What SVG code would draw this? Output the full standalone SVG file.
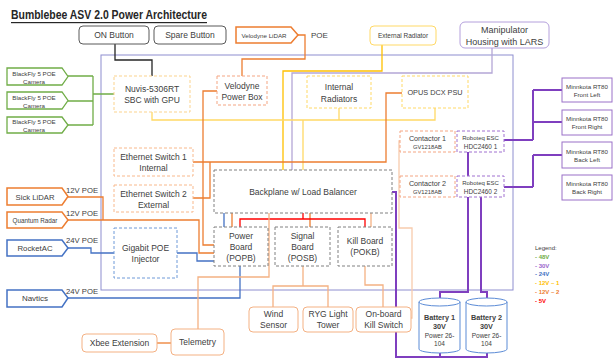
<svg xmlns="http://www.w3.org/2000/svg" width="614" height="360" viewBox="0 0 614 360">
<style>
text{font-family:"Liberation Sans",Arial,sans-serif;fill:#404040;text-anchor:middle;dominant-baseline:central}
.t{font-size:8.5px}
.s{font-size:6.2px}
.box{fill:#fff;stroke-width:1}
.dash{fill:#fff;stroke-width:1;stroke-dasharray:3 2}
.c{fill:none;stroke-width:1.3}
.p30{fill:none;stroke:#7f3fbf;stroke-width:2}
.lg{font-size:6px;font-weight:bold;text-anchor:start}
</style>
<rect width="614" height="360" fill="#fff"/>
<text x="11" y="15" textLength="196" lengthAdjust="spacingAndGlyphs" style="font-size:12px;font-weight:bold;text-anchor:start;text-decoration:underline;fill:#262626">Bumblebee ASV 2.0 Power Architecture</text>

<rect id="mainbox" x="101" y="55" width="412" height="235" fill="none" stroke="#8e8ecf" stroke-width="1"/>

<g id="connectors">
<path class="c" stroke="#262626" stroke-width="1.6" d="M115,44 V60 H152 V76"/>
<path class="c" stroke="#ed7d31" d="M298,35 H305 V59 H242 V76"/>
<path class="c" stroke="#ffc000" stroke-width="2" d="M382,45 V71 H283 V170"/>
<path class="c" stroke="#b4a7d6" d="M492,48 V73 H292 V170"/>
<path class="c" stroke="#ffd966" d="M152,112 V120 H435 V108 M339,108 V120 M303,120 V170"/>
<path class="c" stroke="#ed7d31" d="M402,93 H386 V162 H193 M193,198 H210 V162"/>
<path class="c" stroke="#ed7d31" d="M217,91 H203 V245 H214"/>
<path class="c" stroke="#ed7d31" stroke-width="1.5" d="M68,197 H103 V220 M68,220 H199 V253 H214"/>
<path class="c" stroke="#70ad47" d="M68,76 H93 M68,101 H93 M68,125 H93 M93,76 V125 M93,94 H114"/>
<path class="c" stroke="#4472c4" stroke-width="1.5" d="M68,248 H91 V253 H114 M177,253 H197 V261 H214 M68,298 H240 V266 M224,213 V227"/>
<path class="c" stroke="#ed7d31" d="M232,213 V227 M310,213 V227"/>
<path class="c" stroke="#f4b183" d="M371,213 V227"/>
<path class="c" stroke="#ff0000" stroke-width="1.5" d="M240,227 V219 H365 V227 M303,213 V219"/>
<path class="c" stroke="#f4b183" d="M269,213 V277 H198 V329 M303,266 V286 M273,307 V286 H328 V307 M365,266 V285 H383 V307"/>
<path class="c" stroke="#ed7d31" stroke-width="1.6" d="M157,343 H171"/>
<path class="c" stroke="#f8cbad" stroke-width="1.5" d="M400,141 H399 V228 H412 V318 H411"/>
<path class="p30" d="M392,192 H396 V357 H487 V353 M440,353 V357 M468,197 V292 H440 V298 M481,197 V292 H487 V298 M468,152 V176 M504,140 H533 M533,90 V140 M533,90 H562 M533,122 H562 M504,187 H533 M533,155 V187 M533,155 H562"/>
</g>

<g id="on-button"><rect class="box" x="79" y="26" width="70" height="18" rx="4" stroke="#595959"/><text class="t" x="114" y="35">ON Button</text></g>
<g id="spare-button"><rect class="box" x="154" y="26" width="72" height="18" rx="4" stroke="#595959"/><text class="t" x="190" y="35">Spare Button</text></g>
<g id="velodyne-lidar"><path d="M236,27 H291 L298,35 L291,43 H236 Z" fill="#fff" stroke="#ed7d31" stroke-width="1.5"/><text class="s" x="264" y="35">Velodyne LiDAR</text></g>
<text x="311" y="35" style="font-size:8px;text-anchor:start">POE</text>
<g id="external-radiator"><rect class="box" x="370" y="26" width="66" height="19" rx="4" stroke="#ffd966" stroke-width="1.3"/><text x="403" y="35.5" style="font-size:6.5px">External Radiator</text></g>
<g id="manipulator"><rect class="box" x="460" y="22" width="89" height="26" rx="5" stroke="#b4a0dc" stroke-width="1.3"/><text class="t" x="504.5" y="29.5" style="font-size:9px">Manipulator</text><text class="t" x="504.5" y="41.5" style="font-size:9px">Housing with LARS</text></g>

<g id="cam1"><path d="M7,68 H62 L68,76.5 L62,85 H7 Z" fill="#fff" stroke="#70ad47" stroke-width="1.3"/><text class="s" x="34" y="73">BlackFly 5 POE</text><text class="s" x="34" y="81">Camera</text></g>
<g id="cam2"><path d="M7,92 H62 L68,100.5 L62,109 H7 Z" fill="#fff" stroke="#70ad47" stroke-width="1.3"/><text class="s" x="34" y="97">BlackFly 5 POE</text><text class="s" x="34" y="105">Camera</text></g>
<g id="cam3"><path d="M7,117 H62 L68,125 L62,133 H7 Z" fill="#fff" stroke="#70ad47" stroke-width="1.3"/><text class="s" x="34" y="121.5">BlackFly 5 POE</text><text class="s" x="34" y="129.5">Camera</text></g>

<g id="sick-lidar"><path d="M7,188 H62 L68,196.5 L62,205 H7 Z" fill="#fff" stroke="#ed7d31" stroke-width="1.5"/><text x="35" y="197" style="font-size:7.7px">Sick LiDAR</text></g>
<text x="66" y="190" style="font-size:7.7px;text-anchor:start">12V POE</text>
<g id="quantum-radar"><path d="M7,212 H62 L68,220 L62,228 H7 Z" fill="#fff" stroke="#ed7d31" stroke-width="1.5"/><text x="35" y="220.5" style="font-size:6.3px">Quantum Radar</text></g>
<text x="66" y="213" style="font-size:7.7px;text-anchor:start">12V POE</text>
<g id="rocketac"><path d="M7,240 H62 L68,248 L62,256 H7 Z" fill="#fff" stroke="#4472c4" stroke-width="1.5"/><text x="35" y="248.5" style="font-size:7.8px">RocketAC</text></g>
<text x="66" y="240" style="font-size:7.7px;text-anchor:start">24V POE</text>
<g id="navtics"><path d="M7,290 H62 L68,298 L62,307 H7 Z" fill="#fff" stroke="#4472c4" stroke-width="1.5"/><text x="35" y="298.5" style="font-size:8px">Navtics</text></g>
<text x="66" y="291" style="font-size:7.7px;text-anchor:start">24V POE</text>

<g id="nuvis"><rect class="dash" x="114" y="76" width="76" height="36" stroke="#fbd38d"/><text class="t" x="152" y="89">Nuvis-5306RT</text><text class="t" x="152" y="100">SBC with GPU</text></g>
<g id="velodyne-power-box"><rect class="dash" x="217" y="76" width="50" height="29" stroke="#f4a582"/><text class="t" x="242" y="86">Velodyne</text><text class="t" x="242" y="97">Power Box</text></g>
<g id="internal-radiators"><rect class="dash" x="307" y="76" width="64" height="32" stroke="#ffd966"/><text class="t" x="339" y="87">Internal</text><text class="t" x="339" y="98.5">Radiators</text></g>
<g id="opus"><rect class="dash" x="402" y="76" width="66" height="32" stroke="#ffd966"/><text x="435" y="92" style="font-size:7.3px">OPUS DCX PSU</text></g>
<g id="eth1"><rect class="dash" x="114" y="148" width="79" height="28" stroke="#f8b88b"/><text class="t" x="153.5" y="156.5">Ethernet Switch 1</text><text class="t" x="153.5" y="167.5">Internal</text></g>
<g id="eth2"><rect class="dash" x="114" y="185" width="79" height="27" stroke="#f8b88b"/><text class="t" x="153.5" y="193.5">Ethernet Switch 2</text><text class="t" x="153.5" y="204.5">External</text></g>
<g id="backplane"><rect class="dash" x="214" y="170" width="178" height="43" stroke="#808080"/><text class="t" x="303" y="192">Backplane w/ Load Balancer</text></g>
<g id="power-board"><rect class="dash" x="214" y="227" width="54" height="39" stroke="#808080"/><text class="t" x="241" y="236">Power</text><text class="t" x="241" y="247">Board</text><text class="t" x="241" y="258">(POPB)</text></g>
<g id="signal-board"><rect class="dash" x="275" y="227" width="55" height="39" stroke="#808080"/><text class="t" x="302.5" y="236">Signal</text><text class="t" x="302.5" y="247">Board</text><text class="t" x="302.5" y="258">(POSB)</text></g>
<g id="kill-board"><rect class="dash" x="338" y="227" width="54" height="39" stroke="#808080"/><text class="t" x="365" y="241">Kill Board</text><text class="t" x="365" y="252">(POKB)</text></g>
<g id="gigabit"><rect class="dash" x="114" y="228" width="63" height="50" stroke="#6f9ad8"/><text class="t" x="145.5" y="248">Gigabit POE</text><text class="t" x="145.5" y="259">Injector</text></g>

<g id="contactor1"><rect class="dash" x="400" y="131" width="55" height="21" stroke="#f4a582"/><text x="427.5" y="138" style="font-size:7.2px">Contactor 1</text><text x="427.5" y="146.5" style="font-size:5.8px">GV1218AB</text></g>
<g id="esc1"><rect class="dash" x="457" y="131" width="47" height="21" stroke="#a070d0"/><text x="480.5" y="137.5" style="font-size:6px">Roboteq ESC</text><text x="480.5" y="146" style="font-size:6.4px">HDC2460 1</text></g>
<g id="contactor2"><rect class="dash" x="400" y="176" width="55" height="21" stroke="#f4a582"/><text x="427.5" y="183" style="font-size:7.2px">Contactor 2</text><text x="427.5" y="191.5" style="font-size:5.8px">GV1218AB</text></g>
<g id="esc2"><rect class="dash" x="457" y="176" width="47" height="21" stroke="#a070d0"/><text x="480.5" y="182.5" style="font-size:6px">Roboteq ESC</text><text x="480.5" y="191" style="font-size:6.4px">HDC2460 2</text></g>

<g id="mk-fl"><rect class="box" x="562" y="78" width="50" height="24" stroke="#9a70c8"/><text class="s" x="587" y="86.5">Minnkota RT80</text><text class="s" x="587" y="94">Front Left</text></g>
<g id="mk-fr"><rect class="box" x="562" y="110" width="50" height="25" stroke="#9a70c8"/><text class="s" x="587" y="118.5">Minnkota RT80</text><text class="s" x="587" y="126.5">Front Right</text></g>
<g id="mk-bl"><rect class="box" x="562" y="142" width="50" height="26" stroke="#9a70c8"/><text class="s" x="587" y="151">Minnkota RT80</text><text class="s" x="587" y="159">Back Left</text></g>
<g id="mk-br"><rect class="box" x="562" y="175" width="50" height="25" stroke="#9a70c8"/><text class="s" x="587" y="183.5">Minnkota RT80</text><text class="s" x="587" y="191.5">Back Right</text></g>

<g id="battery1"><path d="M419,302 A20.5,4 0 0 1 460,302 V349 A20.5,4 0 0 1 419,349 Z M419,302 A20.5,4 0 0 0 460,302" fill="#fff" stroke="#5b8bd6" stroke-width="1"/><text x="439.5" y="317" style="font-size:7.3px;font-weight:bold">Battery 1</text><text x="439.5" y="326" style="font-size:7.3px;font-weight:bold">30V</text><text x="439.5" y="335" style="font-size:6.5px">Power 26-</text><text x="439.5" y="343.5" style="font-size:6.5px">104</text></g>
<g id="battery2"><path d="M466,302 A20.5,4 0 0 1 507,302 V349 A20.5,4 0 0 1 466,349 Z M466,302 A20.5,4 0 0 0 507,302" fill="#fff" stroke="#5b8bd6" stroke-width="1"/><text x="486.5" y="317" style="font-size:7.3px;font-weight:bold">Battery 2</text><text x="486.5" y="326" style="font-size:7.3px;font-weight:bold">30V</text><text x="486.5" y="335" style="font-size:6.5px">Power 26-</text><text x="486.5" y="343.5" style="font-size:6.5px">104</text></g>

<g id="wind"><rect class="box" x="249" y="307" width="49" height="25" rx="4" stroke="#f4b183" stroke-width="1.2"/><text class="t" x="273.5" y="314">Wind</text><text class="t" x="273.5" y="325">Sensor</text></g>
<g id="ryg"><rect class="box" x="303" y="307" width="50" height="25" rx="4" stroke="#f4b183" stroke-width="1.2"/><text class="t" x="328" y="314">RYG Light</text><text class="t" x="328" y="325">Tower</text></g>
<g id="killswitch"><rect class="box" x="356" y="307" width="55" height="25" rx="4" stroke="#f4b183" stroke-width="1.2"/><text class="t" x="383.5" y="314">On-board</text><text class="t" x="383.5" y="325">Kill Switch</text></g>
<g id="telemetry"><rect class="box" x="171" y="329" width="53" height="26" rx="4" stroke="#f4b183" stroke-width="1.2"/><text class="t" x="197.5" y="342">Telemetry</text></g>
<g id="xbee"><rect class="box" x="82" y="334" width="75" height="18" rx="4" stroke="#f4b183" stroke-width="1.2"/><text class="t" x="119.5" y="343">Xbee Extension</text></g>

<g id="legend">
<text x="535" y="248" style="font-size:6px;text-anchor:start">Legend:</text>
<text class="lg" x="535" y="257" style="fill:#70ad47">- 48V</text>
<text class="lg" x="535" y="265.5" style="fill:#9966cc">- 30V</text>
<text class="lg" x="535" y="274" style="fill:#4472c4">- 24V</text>
<text class="lg" x="535" y="283" style="fill:#ffc000">- 12V – 1</text>
<text class="lg" x="535" y="291.5" style="fill:#ed7d31">- 12V – 2</text>
<text class="lg" x="535" y="300.5" style="fill:#ff0000">- 5V</text>
</g>
</svg>
